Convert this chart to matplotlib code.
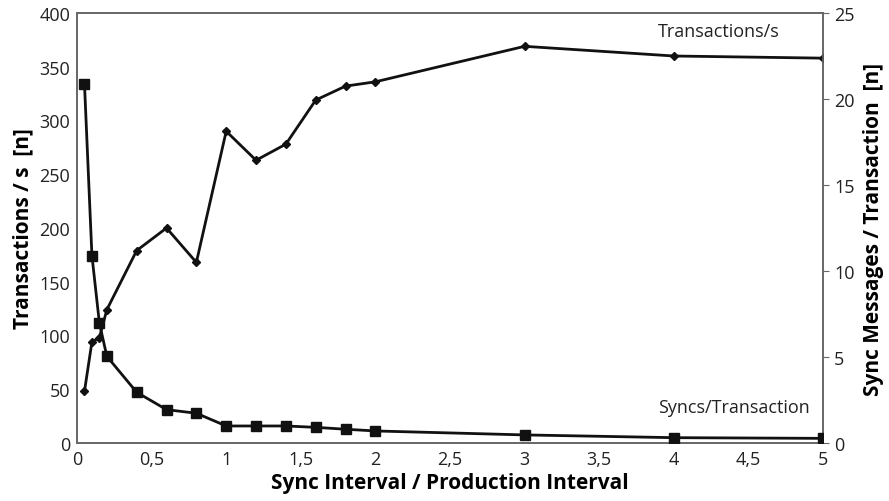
import matplotlib
matplotlib.use("Agg")
import matplotlib.pyplot as plt

interval = [0.05, 0.1, 0.15, 0.2, 0.4, 0.6, 0.8, 1.0, 1.2, 1.4, 1.6, 1.8, 2.0, 3.0, 4.0, 5.0]
transactions_per_s = [48, 94, 98, 124, 179, 200, 168, 290, 263, 278, 319, 332, 336, 369, 360, 358]
syncs_per_transaction = [20.9, 10.9, 6.98, 5.04, 2.95, 1.94, 1.73, 0.99, 0.99, 0.99, 0.91, 0.80, 0.70, 0.47, 0.31, 0.27]

x_ticks = [0, 0.5, 1, 1.5, 2, 2.5, 3, 3.5, 4, 4.5, 5]
x_ticklabels = ["0", "0,5", "1", "1,5", "2", "2,5", "3", "3,5", "4", "4,5", "5"]
left_ticks = [0, 50, 100, 150, 200, 250, 300, 350, 400]
right_ticks = [0, 5, 10, 15, 20, 25]

plt.rcParams['font.family'] = ['Open Sans', 'DejaVu Sans']

fig = plt.figure(figsize=(8.89, 5.02), dpi=100)
ax = fig.add_axes([77/889, 1 - 444/502, (823-77)/889, (444-14)/502])
ax2 = ax.twinx()

ax.plot(interval, transactions_per_s, color='#111111', lw=2, marker='D', ms=4, zorder=3)
ax2.plot(interval, syncs_per_transaction, color='#111111', lw=2, marker='s', ms=7, zorder=3)

ax.set_xlim(0, 5)
ax.set_ylim(0, 400)
ax2.set_ylim(0, 25)
ax.set_xticks(x_ticks)
ax.set_xticklabels(x_ticklabels)
ax.set_yticks(left_ticks)
ax2.set_yticks(right_ticks)

for a in (ax, ax2):
    for s in a.spines.values():
        s.set_color('#666666')
        s.set_linewidth(1.2)
ax.tick_params(axis='both', length=0, labelsize=13, colors='#222222')
ax.tick_params(axis='x', pad=5)
ax.tick_params(axis='y', pad=5)
ax2.tick_params(axis='y', length=4, labelsize=13, colors='#222222', pad=4)
ax2.tick_params(axis='y', color='#666666')

ax.set_xlabel("Sync Interval / Production Interval", fontsize=15, fontweight='bold', labelpad=3)
ax.set_ylabel("Transactions / s  [n]", fontsize=15, fontweight='bold', labelpad=4)
ax2.set_ylabel("Sync Messages / Transaction  [n]", fontsize=15, fontweight='bold', labelpad=6)

ax.text(0.779, 0.958, "Transactions/s", transform=ax.transAxes, ha='left', va='center', fontsize=13, color='#222222')
ax.text(0.779, 0.084, "Syncs/Transaction", transform=ax.transAxes, ha='left', va='center', fontsize=13, color='#222222')

fig.savefig("out.png", dpi=100)
